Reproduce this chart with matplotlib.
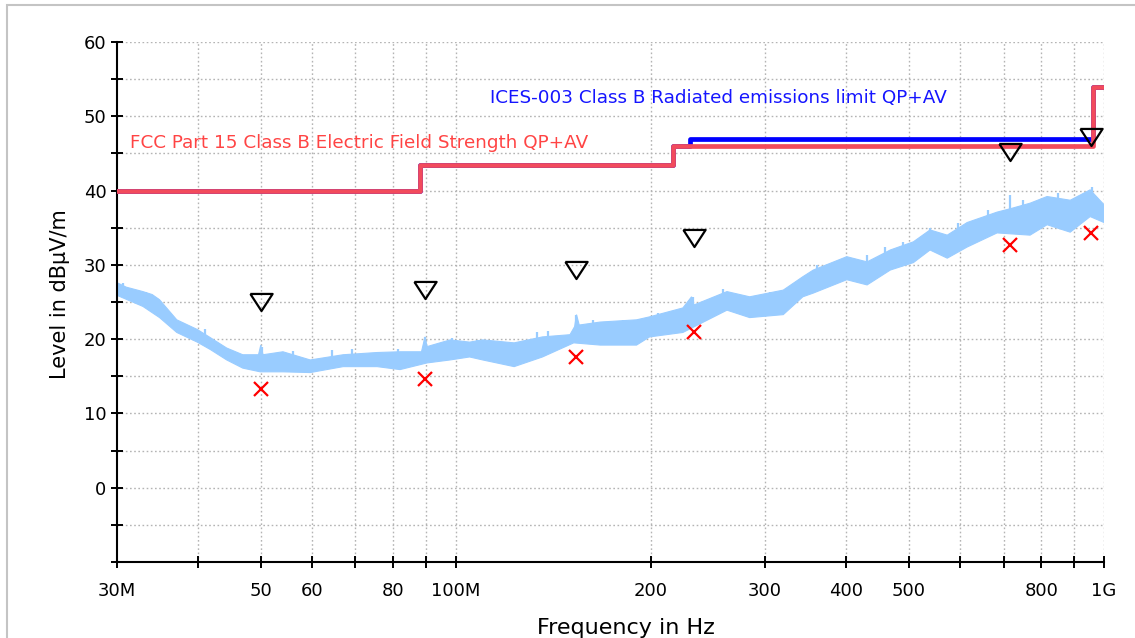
import matplotlib
matplotlib.use("Agg")
import matplotlib.pyplot as plt
import numpy as np
from matplotlib.patches import Rectangle

# limit lines (MHz, dBuV/m), step-post
fcc_freq = [30, 88, 216, 960, 1000]
fcc_level = [40, 43.5, 46, 54, 54]
ices_freq = [30, 88, 216, 230, 960, 1000]
ices_level = [40, 43.5, 46, 47, 54, 54]

upper_freq = [30, 31, 32.9, 34, 34.9, 37.1, 39.9, 41.8, 44.3, 46.9, 49.6, 50.0, 50.4, 54.1, 59.6,
              67, 75.6, 82, 88.5, 89.6, 90.3, 98, 105, 110, 123, 136, 150, 152.5, 153.5, 155,
              167, 190, 199, 224, 231, 233, 262, 284, 320, 343, 356, 401, 431, 468, 508, 539,
              573, 615, 684, 720, 769, 817, 887, 952, 1000]
upper_level = [27.6, 27.0, 26.4, 26.0, 25.3, 22.6, 21.3, 20.2, 18.8, 17.9, 17.9, 19.2, 17.9, 18.3, 17.2,
               17.9, 18.2, 18.3, 18.3, 20.3, 19.0, 19.9, 19.6, 19.9, 19.5, 20.3, 20.6, 21.7, 23.3, 21.9,
               22.3, 22.6, 23.0, 24.2, 25.7, 24.6, 26.4, 25.7, 26.6, 28.4, 29.3, 31.1, 30.4, 32.0, 33.1, 34.7,
               34.0, 35.7, 37.1, 37.6, 38.3, 39.2, 38.7, 40.1, 38.1]
lower_freq = [30, 32.9, 34.9, 37.1, 39.9, 41.8, 44.3, 46.9, 49.9, 54.1, 59.6, 67, 75.6, 82, 90.3,
              98, 105, 110, 123, 136, 152, 167, 190, 199, 224, 262, 284, 320, 343, 356, 401, 431,
              468, 508, 539, 573, 615, 684, 769, 817, 887, 952, 1000]
lower_level = [25.9, 24.4, 22.9, 20.9, 19.6, 18.6, 17.2, 16.1, 15.6, 15.6, 15.5, 16.3, 16.3, 15.9, 16.8,
               17.2, 17.6, 17.2, 16.3, 17.6, 19.5, 19.2, 19.2, 20.3, 20.9, 23.9, 22.9, 23.3, 25.7, 26.2, 28.0, 27.3,
               29.3, 30.3, 32.0, 30.9, 32.4, 34.3, 34.0, 35.4, 34.4, 36.5, 35.7]

# single noise spikes sticking out of the trace
spike_freq = [30.6, 33.2, 34.6, 41.0, 50.2, 56.1, 64.4, 69.2, 81.4, 89.6, 98.7, 107.8, 133.4, 138.8,
              153.2, 162.8, 181.1, 194.4, 205.1, 232.3, 258.4, 305.4, 360.8, 391.6, 431, 459.7, 490,
              539.2, 595.6, 662.6, 716.4, 750.3, 849.8, 958.7]
spike_top = [27.6, 26.4, 25.6, 21.4, 19.0, 18.4, 18.6, 18.7, 18.7, 20.3, 20.2, 19.9, 20.9, 21.1,
             23.3, 22.6, 22.6, 22.6, 23.5, 25.7, 26.8, 26.4, 30.0, 30.7, 31.3, 32.4, 33.1,
             35.0, 35.7, 37.4, 39.4, 38.7, 39.7, 40.5]
spike_base = [26.8, 25.8, 24.8, 19.8, 17.5, 17.5, 17.2, 17.5, 17.8, 18.0, 19.0, 19.0, 19.5, 19.7,
              21.0, 21.4, 21.6, 21.9, 22.4, 23.8, 25.0, 25.2, 28.0, 29.6, 29.5, 30.8, 31.8,
              33.5, 33.8, 35.8, 36.5, 36.8, 37.6, 38.6]

# final measurements
qp_freq = [50, 89.6, 153, 233, 716, 955]
qp_level = [25.0, 26.6, 29.3, 33.6, 45.2, 47.2]
av_freq = [50, 89.6, 153, 233, 716, 955]
av_level = [13.3, 14.7, 17.6, 20.9, 32.7, 34.3]

x_ticks = [30, 40, 50, 60, 70, 80, 90, 100, 200, 300, 400, 500, 600, 700, 800, 900, 1000]
x_labels = ["30M", "", "50", "60", "", "80", "", "100M", "200", "300", "400", "500", "", "", "800", "", "1G"]
y_ticks = list(range(-10, 65, 5))
y_labels = [str(v) if v % 10 == 0 and v > -10 else "" for v in y_ticks]

plt.rcParams["font.family"] = ["DejaVu Sans"]

fig = plt.figure(figsize=(11.35, 6.38), dpi=100)
fig.patches.append(Rectangle((7 / 1135, -0.1), 1.2, 1.1 - 5 / 638, transform=fig.transFigure,
                             fill=False, ec="#c4c4c4", lw=1.5))
ax = fig.add_axes([117 / 1135, 1 - 562 / 638, (1104 - 117) / 1135, (562 - 42) / 638])

ax.set_xscale("log")
ax.set_xlim(30, 1000)
ax.set_ylim(-10, 60)

# spectrum band
poly_x = np.r_[upper_freq, lower_freq[::-1]]
poly_y = np.r_[upper_level, lower_level[::-1]]
ax.fill(poly_x, poly_y, color="#99ccff", lw=0.8, ec="#99ccff", zorder=2)
ax.vlines(spike_freq, spike_base, spike_top, color="#99ccff", lw=1.6, zorder=2)

ax.plot(ices_freq, ices_level, drawstyle="steps-post", c="#0000ff", lw=3.4, zorder=3)
ax.plot(fcc_freq, fcc_level, drawstyle="steps-post", c="#f24b5c", lw=3.4, zorder=4)

tri = [(-1.3, 1), (1.3, 1), (0, -1), (-1.3, 1)]
ax.plot(qp_freq, qp_level, ls="none", marker=tri, ms=16, mfc="none", mec="black", mew=1.6, zorder=5)
ax.plot(av_freq, av_level, ls="none", marker="x", ms=10, mec="#ff0000", mew=1.6, zorder=5)

ax.text(31.4, 46.4, "FCC Part 15 Class B Electric Field Strength QP+AV", color="#ff4444", fontsize=13.2,
        va="center", ha="left")
ax.text(113, 52.5, "ICES-003 Class B Radiated emissions limit QP+AV", color="#1515ff", fontsize=13.2,
        va="center", ha="left")

ax.set_xticks(x_ticks, x_labels)
ax.set_yticks(y_ticks, y_labels)
ax.minorticks_off()
ax.tick_params(direction="inout", length=9, width=1.4, labelsize=13, color="black")
ax.tick_params(axis="x", pad=10)
ax.tick_params(axis="y", pad=3)

for s in ["top", "right"]:
    ax.spines[s].set_visible(False)
for s in ["left", "bottom"]:
    ax.spines[s].set_linewidth(1.5)

ax.set_axisbelow(True)
ax.grid(True, c="#b4b4b4", ls=(0, (1.2, 1.8)), lw=1.0)
ax.yaxis.get_gridlines()[0].set_visible(False)
ax.xaxis.get_gridlines()[0].set_visible(False)

fig.text(626 / 1135, 1 - 628 / 638, "Frequency in Hz", fontsize=16, ha="center", va="center")
fig.text(60 / 1135, 1 - 294 / 638, "Level in dBµV/m", fontsize=15, ha="center", va="center", rotation=90)

fig.savefig("out.png", dpi=100)
